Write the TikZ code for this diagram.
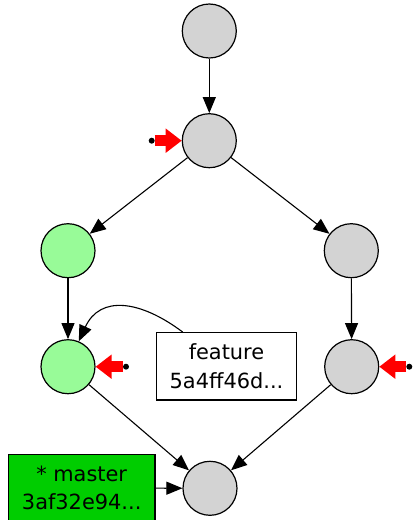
\documentclass[tikz,border=0pt]{standalone}
\usepackage{fontspec}
\setmainfont{DejaVu Sans}
\usetikzlibrary{arrows.meta}
\definecolor{nodegray}{HTML}{D3D3D3}
\definecolor{palegr}{HTML}{98FB98}
\definecolor{mastergr}{HTML}{00CD00}
\begin{document}
\begin{tikzpicture}[x=1pt,y=-1pt,
  commit/.style={circle,draw,line width=1.2pt,minimum size=54pt,inner sep=0pt,fill=nodegray},
  newcommit/.style={commit,fill=palegr},
  refbox/.style={draw,line width=1.2pt,inner sep=0pt,align=center,font=\fontsize{20.9}{28.3}\selectfont},
  edge/.style={line width=1.1pt,-{Triangle[length=16pt,width=13pt]}},
  headdot/.style={circle,fill=black,inner sep=0pt,minimum size=6pt},
  redptr/.style={red,line width=11.5pt,-{Triangle[length=16pt,width=23.3pt]}}]
\useasboundingbox (0,0) rectangle (414,520);
\clip (0,0) rectangle (414,520);
\node[commit] (c1) at (209.3,31) {};
\node[commit] (c2) at (209.3,140.7) {};
\node[newcommit] (c3) at (68,250.7) {};
\node[commit] (c4) at (351.3,250.7) {};
\node[newcommit] (c5) at (68,366.7) {};
\node[commit] (c6) at (351.7,366.7) {};
\node[commit] (c7) at (210,488.3) {};
\node[refbox,minimum width=140.4pt,minimum height=67.3pt] (feat) at (226.5,366.3) {feature\\5a4ff46d...};
\node[refbox,fill=mastergr,minimum width=146.7pt,minimum height=67.3pt] (master) at (81.7,488) {* master\\3af32e94...};
\draw[edge] (c1) -- (c2);
\draw[edge] (c2) -- (c3);
\draw[edge] (c2) -- (c4);
\draw[edge] (c3) -- (c5);
\draw[edge] (c4) -- (c6);
\draw[edge] (c5) -- (c7);
\draw[edge] (c6) -- (c7);
\draw[edge] (master) -- (c7);
\draw[edge] ([xshift=27pt]feat.north west) .. controls (140,300) and (100,295) .. (c5.67);
\node[headdot] (h2) at (151.7,140.7) {};
\node[headdot] (h5) at (126,366.7) {};
\node[headdot] (h6) at (409.3,366.7) {};
\draw[redptr] (h2) -- (c2);
\draw[redptr] (h5) -- (c5);
\draw[redptr] (h6) -- (c6);
\end{tikzpicture}
\end{document}
